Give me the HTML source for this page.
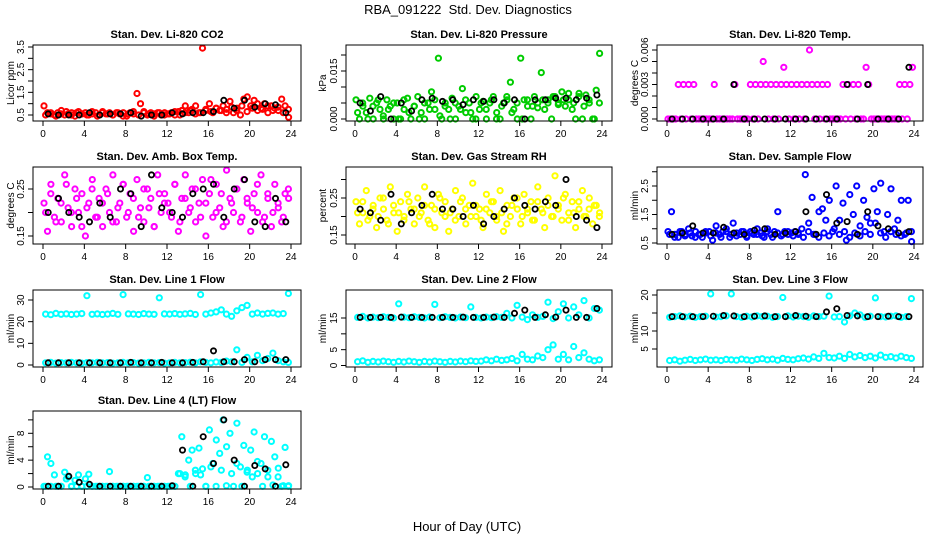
<!DOCTYPE html>
<html><head><meta charset="utf-8"><style>
html,body{margin:0;padding:0;background:#fff;}
svg{display:block;font-family:"Liberation Sans",Arial,sans-serif;}
</style></head><body>
<svg id="chart" width="936" height="540" viewBox="0 0 936 540" xmlns="http://www.w3.org/2000/svg">
<rect width="936" height="540" fill="#fff"/>
<text x="468" y="14" font-size="13" text-anchor="middle">RBA_091222&#160; Std. Dev. Diagnostics</text>
<text x="467" y="531" font-size="13" text-anchor="middle">Hour of Day (UTC)</text>
</svg>
<script>
// ---------- data ----------
const xTicks = [0,4,8,12,16,20,24];
const co2Red = [0.9,0.6,0.55,0.5,0.6,0.7,0.5,0.55,0.6,0.45,0.65,0.55,0.6,0.5,0.55,0.6,0.5,0.65,0.55,0.6,0.5,0.6,0.55,0.6,0.45,0.6,0.55,1.45,1.0,0.65,0.5,0.6,0.55,0.6,0.5,0.6,0.55,0.6,0.5,0.65,0.7,0.9,0.6,0.75,0.9,0.6,3.45,0.7,1.0,0.6,0.8,0.7,0.9,0.75,1.1,0.6,0.8,0.5,1.2,1.3,0.9,1.15,0.7,0.8,1.0,0.6,0.9,0.8,0.7,1.2,0.9,0.4];
const co2Band = [0.5,0.6,0.45,0.55,0.65,0.5,0.6,0.55,0.5,0.65,0.45,0.6,0.55,0.5,0.6,0.45,0.55,0.65,0.5,0.6,0.55,0.45,0.6,0.5,0.55,0.65,0.5,0.6,0.7,0.55,0.6,0.75,0.65,0.8,0.7,0.6,0.85,0.7,0.9,0.65,0.8,1.0,0.75,0.9,0.7,0.85,0.6,0.75];
const co2Black = [0.55,0.5,0.5,0.5,0.6,0.5,0.55,0.55,0.6,0.45,0.5,0.5,0.6,0.55,0.6,0.6,0.65,1.15,0.8,1.15,0.85,1.0,0.95,0.6];
const presGreen = [0.006,0.0,0.004,0.002,0.0065,0.0,0.005,0.003,0.0,0.006,0.004,0.0,0.005,0.0,0.003,0.0065,0.0,0.004,0.007,0.002,0.0,0.005,0.0085,0.003,0.019,0.0,0.005,0.003,0.0065,0.0,0.004,0.0095,0.002,0.005,0.0,0.007,0.003,0.0055,0.0,0.005,0.007,0.002,0.0,0.005,0.006,0.0115,0.003,0.0,0.019,0.006,0.004,0.0,0.007,0.005,0.0145,0.003,0.006,0.0,0.007,0.005,0.0085,0.004,0.006,0.003,0.0,0.008,0.0,0.0075,0.005,0.0,0.009,0.0205];
const presBand = [0.002,0.005,0.0,0.004,0.006,0.001,0.003,0.005,0.0,0.006,0.002,0.004,0.0,0.005,0.003,0.006,0.001,0.004,0.0,0.005,0.003,0.006,0.002,0.0,0.005,0.003,0.006,0.0,0.004,0.007,0.002,0.005,0.0,0.006,0.004,0.0035,0.006,0.005,0.007,0.0045,0.006,0.008,0.005,0.007,0.004,0.006,0.0,0.005];
const presBlack = [0.005,0.0025,0.007,0.0,0.005,0.0025,0.006,0.0065,0.0055,0.006,0.0045,0.006,0.0055,0.006,0.005,0.006,0.0,0.006,0.006,0.0065,0.0065,0.006,0.0065,0.0075];
const tempMag = [0,0,0,0,0.003,0,0.003,0,0.003,0,0.003,0,0,0,0,0,0,0,0.003,0,0,0,0,0,0,0,0.003,0,0,0,0,0,0.003,0,0.003,0,0.003,0.005,0.003,0,0.003,0,0.003,0,0.003,0.0045,0.003,0,0.003,0,0.003,0,0.003,0,0.003,0.006,0.003,0,0.003,0,0.003,0,0.003,0,0,0,0,0,0.003,0,0.003,0,0.003,0,0.003,0,0,0.0045,0.003,0,0,0,0,0,0,0,0,0,0,0,0.003,0,0.003,0,0.003,0.0045];
const tempBlack = [0,0,0,0,0,0,0.003,0,0,0,0,0,0,0,0,0,0,0.003,0,0.003,0,0,0,0.0045];
const boxMag = [0.22,0.16,0.26,0.19,0.23,0.18,0.28,0.21,0.17,0.25,0.2,0.24,0.15,0.22,0.27,0.19,0.23,0.17,0.25,0.2,0.28,0.18,0.22,0.26,0.19,0.24,0.16,0.27,0.21,0.18,0.25,0.23,0.17,0.28,0.2,0.24,0.22,0.19,0.26,0.16,0.23,0.28,0.2,0.25,0.18,0.22,0.27,0.15,0.24,0.19,0.26,0.21,0.17,0.29,0.23,0.2,0.25,0.18,0.27,0.22,0.16,0.24,0.2,0.28,0.19,0.23,0.17,0.26,0.21,0.18,0.24,0.23];
const boxBand = [0.2,0.24,0.18,0.22,0.26,0.2,0.23,0.17,0.21,0.25,0.19,0.22,0.24,0.18,0.21,0.26,0.2,0.23,0.19,0.25,0.21,0.17,0.24,0.22,0.2,0.26,0.18,0.23,0.21,0.25,0.19,0.22,0.27,0.2,0.24,0.18,0.22,0.25,0.19,0.23,0.21,0.26,0.18,0.24,0.2,0.22,0.19,0.25];
const boxBlack = [0.2,0.23,0.2,0.19,0.18,0.22,0.19,0.25,0.24,0.17,0.28,0.21,0.2,0.19,0.24,0.25,0.26,0.19,0.25,0.27,0.18,0.17,0.23,0.18];
const rhYellow = [0.24,0.18,0.21,0.27,0.2,0.23,0.17,0.25,0.22,0.19,0.28,0.21,0.16,0.24,0.2,0.26,0.22,0.18,0.25,0.21,0.28,0.19,0.23,0.17,0.26,0.21,0.24,0.16,0.22,0.27,0.2,0.25,0.18,0.23,0.29,0.2,0.22,0.17,0.26,0.21,0.24,0.19,0.27,0.16,0.23,0.2,0.25,0.22,0.18,0.26,0.21,0.24,0.19,0.28,0.22,0.17,0.25,0.2,0.31,0.23,0.19,0.26,0.21,0.24,0.17,0.22,0.27,0.2,0.25,0.18,0.23,0.21];
const rhBand = [0.21,0.24,0.19,0.22,0.2,0.25,0.18,0.23,0.21,0.19,0.24,0.22,0.2,0.23,0.18,0.22,0.25,0.2,0.21,0.19,0.24,0.22,0.2,0.23,0.19,0.22,0.24,0.2,0.21,0.18,0.23,0.25,0.2,0.22,0.19,0.24,0.21,0.23,0.2,0.22,0.25,0.19,0.21,0.24,0.2,0.22,0.23,0.2];
const rhBlack = [0.22,0.21,0.19,0.26,0.18,0.21,0.23,0.26,0.22,0.22,0.2,0.23,0.18,0.2,0.22,0.25,0.23,0.22,0.24,0.23,0.3,0.2,0.19,0.17];
const flowBlue = [0.9,1.6,0.8,0.7,0.9,0.8,1.0,0.75,0.9,0.8,0.7,0.85,0.9,0.6,1.1,0.8,0.9,1.0,0.7,1.2,0.85,0.8,0.9,0.75,0.9,0.8,1.0,0.85,0.7,1.0,0.8,0.9,1.6,0.75,0.9,0.8,0.85,0.9,0.8,1.0,2.9,1.2,2.1,0.8,1.6,1.7,1.3,2.0,0.9,2.5,1.3,1.9,0.6,2.2,1.5,2.5,1.1,2.0,1.4,1.2,2.4,1.6,2.6,0.9,1.5,2.4,1.0,1.3,2.0,0.8,2.0,0.55];
const flowBand = [0.8,0.7,0.9,0.75,0.85,0.7,0.8,0.9,0.75,0.85,0.7,0.9,0.8,0.75,0.9,0.7,0.85,0.8,0.75,0.9,0.7,0.85,0.8,0.9,0.75,0.85,0.7,0.9,0.8,0.7,0.85,0.75,1.0,0.8,0.9,0.7,0.85,0.75,0.9,0.8,1.2,0.85,0.7,0.9,0.8,0.75,0.85,0.9];
const flowBlack = [0.8,0.85,1.1,0.85,0.85,1.05,0.85,0.8,0.95,1.0,0.8,0.85,0.9,1.6,0.8,2.2,1.2,1.25,0.8,1.6,1.1,1.0,0.85,0.9];
const l1Upper = [23.5,23.2,23.8,23.4,23.6,23.3,23.5,23.7,32,23.4,23.6,23.3,23.5,23.8,23.4,32.5,23.6,23.5,23.3,23.7,23.5,23.4,31,23.6,23.5,23.7,23.4,23.6,23.8,23.3,32.5,23.5,24,24.5,25.5,23.5,22.5,25,26.5,27.5,23.5,24,23.5,23.8,24,23.5,23.7,33];
const l1Lower = [1,1.2,0.9,1.1,1,1.2,1,0.9,1.1,1,1.2,1,1.1,0.9,1,1.2,1,1.1,0.9,1,1.2,1,1.1,0.9,1,1.2,1,1.1,1.3,1,1.5,1.2,1,1.4,1.2,1.8,1.5,7,1.2,3.5,1.5,4.5,2,3,5.5,2,1.5,1.2];
const l1Black = [1,1,1,1,1,1,1,1,1.2,1,1,1.2,1,1,1.2,1.5,6.5,1.5,1.5,2.5,1.5,2.5,2.5,2.5];
const l2Upper = [15.2,15.5,15,15.3,15.1,15.4,15.2,15,19.5,15.3,15.1,15.4,15.2,15,15.3,19.3,15.1,15.4,15.2,15,15.3,15.1,18.5,15.2,15,15.3,15.1,15.4,15.2,16.5,15,19,15.3,14.5,16,15.2,15.5,20,14.8,17,19.5,15,18.5,16,20.5,15,18,17.5];
const l2Lower = [1.2,1.5,1,1.3,1.1,1.4,1.2,1,1.3,1.1,1.4,1.2,1,1.3,1.1,1.4,1.2,1,1.3,1.1,1.4,1.2,1.5,1.3,1.4,1.8,1.5,2,1.6,1.8,2.2,1.5,3.5,2,1.8,3,2.5,5,6.5,2,3.5,1.8,6,2.5,4,2,1.5,1.8];
const l2Black = [15.2,15.2,15.2,15.2,15.3,15.2,15.2,15.2,15.2,15.2,15.3,15.2,15.2,15.3,15.2,16.5,17.5,15.2,16,15.3,17.5,15.2,15.2,18];
const l3Upper = [13.8,14,14.2,13.9,14.1,13.8,14,14.1,20.3,13.9,14,14.2,20.3,14,13.8,14.1,13.9,14.2,14,14.1,13.8,14,19.3,14.2,13.9,14.1,14,13.8,14.2,14,14.1,19.7,13.9,14,12.5,14.2,15,14.5,13.8,14.1,19.2,14,13.9,14.1,14.2,13.8,14,19];
const l3Lower = [1.8,2,1.6,1.9,2.1,1.8,2,2.2,1.9,2,1.8,2.1,2,1.9,2.2,2,1.8,2.1,2.3,2,2.2,1.9,2.4,2.1,2,2.3,2.5,2.2,2.8,2.4,3.8,2.6,2.5,3,2.4,3.5,2.8,3.2,2.6,3,2.5,3.3,2.7,2.9,2.5,3,2.6,2.4];
const l3Black = [14,14,14,14,14.1,14.3,14.2,14,14.1,14.2,14,14,14.3,14.1,14,15.3,16.2,14.3,14.2,14,14,14.1,14,14];
const l4Cyan = [0.1,4.5,3.5,1.8,0.1,0.1,2.2,1.5,0.1,1,1.8,0.1,1.2,1.9,0.1,0.1,0.1,0.1,0.1,2.3,0.1,0.1,0.1,0.1,0.1,0.1,0.1,0.1,0.1,0.1,1.4,0.1,0.1,0.1,0.1,0.1,0.1,0.1,0.1,2,7.5,1.8,4,5.5,2,5.8,2.7,0.1,8.5,3.5,7,5,10,6,8,0.1,9.5,3,6.2,2.5,5.5,8.2,2,3.5,7.5,1.5,6.8,4.5,2.8,0.1,5.9,0.2];
const l4Low = [0.1,0.1,0.1,0.1,1.2,0.1,0.1,0.1,0.1,0.1,0.1,0.1,0.1,0.1,0.1,0.1,0.1,0.1,0.1,0.1,0.1,0.1,0.1,0.1,0.1,0.1,2,1.5,0.1,2.5,1.8,0.1,3,0.1,2.5,0.2,2,3.5,0.1,2.2,1.5,3.8,0.1,2.5,0.3,1.5,0.2,0.1];
const l4Black = [0.1,0.1,1.6,0.7,0.4,0.1,0.1,0.1,0.1,0.1,0.1,0.1,0.2,5.5,0.1,7.5,3.5,10,4,0.1,3.2,2.7,0.1,3.3];

// ---------- layout ----------
const NS = 'http://www.w3.org/2000/svg';
const svg = document.getElementById('chart');
const cols = [{l:33,r:301,x0:43,x24:291,yt:10},{l:346,r:612,x0:355,x24:602,yt:322},{l:657,r:923,x0:667,x24:914,yt:634}];
const rows = [{t:45,b:121},{t:167,b:244},{t:290,b:367},{t:411,b:489}];

function mk(tag, attrs, parent){
  const e = document.createElementNS(NS, tag);
  for (const k in attrs) e.setAttribute(k, attrs[k]);
  (parent||svg).appendChild(e);
  return e;
}

const panels = [
 {name:'co2',title:'Stan. Dev. Li-820 CO2',ylab:'Licor ppm',c:0,r:0,v0:0.5,p0:115,v1:3.5,p1:47,ticks:[0.5,1,1.5,2,2.5,3,3.5],labels:['0.5','1.5','2.5','3.5'],
  series:[[co2Band,'#ff0000',false],[co2Red,'#ff0000',false],[co2Black,'#000',true]]},
 {name:'pressure',title:'Stan. Dev. Li-820 Pressure',ylab:'kPa',c:1,r:0,v0:0,p0:119,v1:0.02,p1:55,ticks:[0,0.005,0.01,0.015,0.02],labels:['0.000','0.015'],
  series:[[presBand,'#00cc00',false],[presGreen,'#00cc00',false],[presBlack,'#000',true]]},
 {name:'temp',title:'Stan. Dev. Li-820 Temp.',ylab:'degrees C',c:2,r:0,v0:0,p0:119,v1:0.006,p1:50,ticks:[0,0.001,0.002,0.003,0.004,0.005,0.006],labels:['0.000','0.003','0.006'],
  series:[[tempMag,'#ff00ff',false],[tempBlack,'#000',true]]},
 {name:'box-temp',title:'Stan. Dev. Amb. Box Temp.',ylab:'degrees C',c:0,r:1,v0:0.15,p0:236,v1:0.25,p1:189,ticks:[0.15,0.2,0.25],labels:['0.15','0.25'],
  series:[[boxBand,'#ff00ff',false],[boxMag,'#ff00ff',false],[boxBlack,'#000',true]]},
 {name:'rh',title:'Stan. Dev. Gas Stream RH',ylab:'percent',c:1,r:1,v0:0.15,p0:235,v1:0.25,p1:198,ticks:[0.15,0.2,0.25,0.3],labels:['0.15','0.25'],
  series:[[rhBand,'#ffff00',false],[rhYellow,'#ffff00',false],[rhBlack,'#000',true]]},
 {name:'sample-flow',title:'Stan. Dev. Sample Flow',ylab:'ml/min',c:2,r:1,v0:0.5,p0:243,v1:2.5,p1:186,ticks:[0.5,1,1.5,2,2.5,3],labels:['0.5','1.5','2.5'],
  series:[[flowBand,'#0000ff',false],[flowBlue,'#0000ff',false],[flowBlack,'#000',true]]},
 {name:'line1',title:'Stan. Dev. Line 1 Flow',ylab:'ml/min',c:0,r:2,v0:0,p0:365,v1:30,p1:300,ticks:[0,10,20,30],labels:['0','10','20','30'],
  series:[[l1Upper,'#00ffff',false],[l1Lower,'#00ffff',false],[l1Black,'#000',true]]},
 {name:'line2',title:'Stan. Dev. Line 2 Flow',ylab:'ml/min',c:1,r:2,v0:0,p0:365.5,v1:15,p1:318,ticks:[0,5,10,15],labels:['0','5','15'],
  series:[[l2Upper,'#00ffff',false],[l2Lower,'#00ffff',false],[l2Black,'#000',true]]},
 {name:'line3',title:'Stan. Dev. Line 3 Flow',ylab:'ml/min',c:2,r:2,v0:5,p0:349,v1:20,p1:295,ticks:[5,10,15,20],labels:['5','10','20'],
  series:[[l3Upper,'#00ffff',false],[l3Lower,'#00ffff',false],[l3Black,'#000',true]]},
 {name:'line4',title:'Stan. Dev. Line 4 (LT) Flow',ylab:'ml/min',c:0,r:3,v0:0,p0:487,v1:8,p1:433.3,ticks:[0,2,4,6,8,10],labels:['0','4','8'],
  series:[[l4Cyan,'#00ffff',false],[l4Low,'#00ffff',false],[l4Black,'#000',true]]}
];

panels.forEach(p => {
  const col = cols[p.c], row = rows[p.r];
  const g = mk('g', {});
  
  
  const xs = h => col.x0 + (col.x24 - col.x0) * h / 24;
  const ys = v => p.p0 + (v - p.v0) * (p.p1 - p.p0) / (p.v1 - p.v0);
  const cx = (col.l + col.r) / 2;

  const t = mk('text', {x:cx, y:row.t - 7, 'font-size':11, 'font-weight':'bold', 'text-anchor':'middle'}, g);
  t.textContent = p.title;
  
  

  p.series.forEach(s => {
    const vals = s[0], color = s[1], hourly = s[2];
    const sg = mk('g', {fill:'none', stroke:color, 'stroke-width':hourly ? 1.8 : 2}, g);
    
    
    vals.forEach((v, i) => {
      const h = hourly ? i + 0.5 : i * 24 / vals.length + (vals.length === 48 ? 0.25 : 0.1);
      const c = mk('circle', {cx:xs(h).toFixed(1), cy:ys(v).toFixed(1), r:2.6}, sg);
      
      
    });
  });

  const b = mk('rect', {x:col.l, y:row.t, width:col.r - col.l, height:row.b - row.t, fill:'none', stroke:'#000', 'stroke-width':1}, g);
  
  

  const xa = mk('g', {}, g);
  
  
  mk('line', {x1:xs(0), x2:xs(24), y1:row.b, y2:row.b, stroke:'#000'}, xa);
  xTicks.forEach(h => {
    mk('line', {x1:xs(h), x2:xs(h), y1:row.b, y2:row.b + 5, stroke:'#000'}, xa);
    const tl = mk('text', {x:xs(h), y:row.b + 16, 'font-size':10, 'text-anchor':'middle'}, xa);
    tl.textContent = String(h);
    
    
  });

  const ya = mk('g', {}, g);
  
  
  const tk = p.ticks;
  mk('line', {x1:col.l, x2:col.l, y1:ys(tk[0]), y2:ys(tk[tk.length - 1]), stroke:'#000'}, ya);
  tk.forEach(v => {
    mk('line', {x1:col.l - 5, x2:col.l, y1:ys(v), y2:ys(v), stroke:'#000'}, ya);
  });
  p.labels.forEach(lab => {
    const v = parseFloat(lab);
    const lx = col.l - 9, ly = ys(v);
    const tl = mk('text', {x:lx, y:ly, 'font-size':10, 'text-anchor':'middle', transform:'rotate(-90 ' + lx + ' ' + ly + ')'}, ya);
    tl.textContent = lab;
    
    
  });
  const ym = (row.t + row.b) / 2;
  const yt = mk('text', {x:col.yt + 4, y:ym, 'font-size':10, 'text-anchor':'middle', transform:'rotate(-90 ' + (col.yt + 4) + ' ' + ym + ')'}, ya);
  yt.textContent = p.ylab;
  
  
});
</script>
</body></html>
